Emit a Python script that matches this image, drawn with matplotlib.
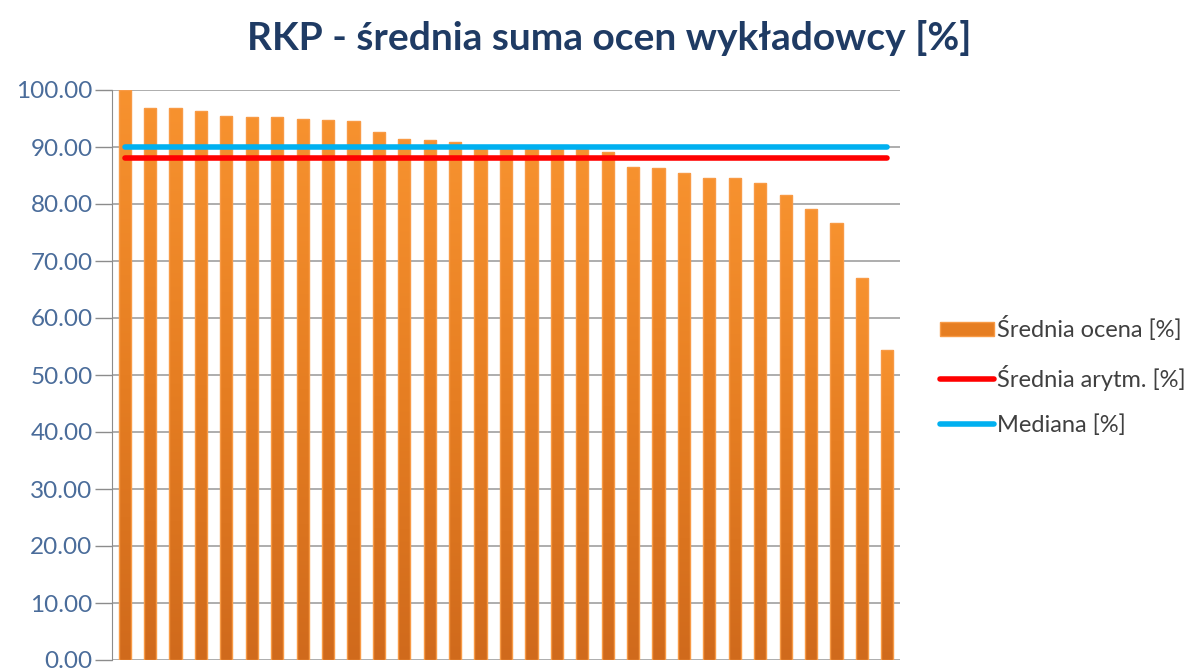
import numpy as np
import matplotlib
matplotlib.use("Agg")
import matplotlib.pyplot as plt
from matplotlib.patches import Patch
from matplotlib.lines import Line2D

# Data
lecturers = list(range(1, 32))
avg_score = [100.0, 96.9, 96.9, 96.4, 95.5, 95.2, 95.2, 95.0, 94.8, 94.6,
             92.6, 91.4, 91.2, 90.8, 90.0, 89.9, 89.9, 89.8, 89.8, 89.1,
             86.5, 86.3, 85.5, 84.6, 84.6, 83.7, 81.5, 79.2, 76.7, 67.1, 54.4]
mean_value = 88.1
median_value = 90.0
yticks = [0, 10, 20, 30, 40, 50, 60, 70, 80, 90, 100]

plt.rcParams["font.family"] = ["Lato", "DejaVu Sans"]

fig = plt.figure(figsize=[11.97, 6.68], dpi=100)
ax = fig.add_axes([112 / 1197, 8 / 668, 788 / 1197, 570 / 668])

x = np.arange(len(avg_score))
bar_w = 0.48

# Bars with vertical orange gradient
bars = ax.bar(x, avg_score, width=bar_w, color="none", edgecolor="#F89A45",
              linewidth=1.0, zorder=2)
grad = np.linspace(0, 1, 256).reshape(-1, 1)
cmap = matplotlib.colors.LinearSegmentedColormap.from_list(
    "org", ["#D06A1C", "#E67E22", "#F7922F"])
for b in bars:
    bx, by = b.get_x(), b.get_y()
    bw, bh = b.get_width(), b.get_height()
    im = ax.imshow(grad, cmap=cmap, aspect="auto", origin="lower",
                   extent=[bx, bx + bw, by, by + bh], zorder=1.9)
    im.set_clip_path(b)

# Mean and median lines
ax.plot(x, [mean_value] * len(x), color="#FF0000", linewidth=4,
        solid_capstyle="round", zorder=3)
ax.plot(x, [median_value] * len(x), color="#00B0F0", linewidth=4,
        solid_capstyle="round", zorder=3)

ax.set_xlim(-0.5, len(x) - 0.5)
ax.set_ylim(0, 100)
ax.set_yticks(yticks)
ax.set_yticklabels([f"{v:.2f}" for v in yticks], fontsize=17.5,
                   color="#4A6C9A")
ax.tick_params(axis="y", length=12, width=1, color="#8C8C8C", pad=2)
ax.set_xticks([])
ax.yaxis.grid(True, color="#A0A0A0", linewidth=1.2, zorder=0)
ax.set_axisbelow(True)
for s in ["top", "right", "bottom"]:
    ax.spines[s].set_visible(False)
ax.spines["left"].set_color("#8C8C8C")

fig.text(609 / 1197, 1 - 38 / 668, "RKP - średnia suma ocen wykładowcy [%]",
         ha="center", va="center", fontsize=28, fontweight="bold",
         color="#1F3B64")

handles = [
    Patch(facecolor="#E67E22", edgecolor="#F89A45"),
    Line2D([0], [0], color="#FF0000", linewidth=4, solid_capstyle="round"),
    Line2D([0], [0], color="#00B0F0", linewidth=4, solid_capstyle="round"),
]
labels = ["Średnia ocena [%]", "Średnia arytm. [%]", "Mediana [%]"]
fig.legend(handles, labels, loc="center left",
           bbox_to_anchor=(940 / 1197, 1 - 376 / 668), frameon=False,
           fontsize=17, labelcolor="#404040", handlelength=2.3,
           handleheight=0.55, handletextpad=0.1, labelspacing=1.0,
           borderaxespad=0, borderpad=0)

plt.savefig("out.png", dpi=100)
